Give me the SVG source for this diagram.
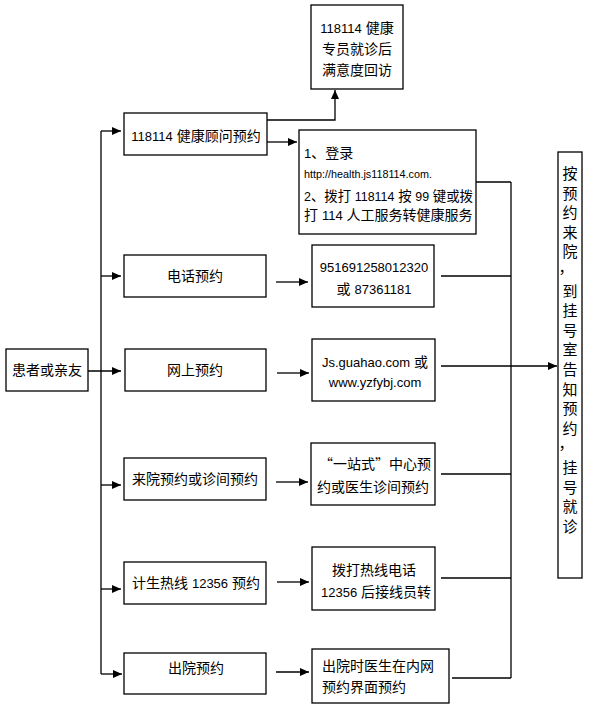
<svg xmlns="http://www.w3.org/2000/svg" width="592" height="710" viewBox="0 0 592 710">
<defs>
<marker id="ah" markerUnits="userSpaceOnUse" markerWidth="10" markerHeight="8" refX="9" refY="4" orient="auto">
<path d="M0,0 L9,4 L0,8 z" fill="#000"/>
</marker>
<style>
rect.b{fill:#fff;stroke:#000;stroke-width:1.3}
text{font-family:"Liberation Sans","Noto Sans CJK SC",sans-serif;font-size:14px;fill:#000}
.c{text-anchor:middle}
.l{font-size:13px}
.v{font-size:15px;text-anchor:middle}
.cn line,.cn polyline{stroke:#000;stroke-width:1.3;fill:none}
.ar{marker-end:url(#ah)}
</style>
</defs>
<rect width="592" height="710" fill="#fff"/>

<g id="connectors" class="cn">
<line x1="101" y1="131" x2="101" y2="674"/>
<line class="ar" x1="101" y1="131" x2="121" y2="131"/>
<line class="ar" x1="101" y1="276" x2="121" y2="276"/>
<line class="ar" x1="88" y1="371" x2="121" y2="371"/>
<line class="ar" x1="101" y1="485" x2="121" y2="485"/>
<line class="ar" x1="101" y1="589" x2="121" y2="589"/>
<line class="ar" x1="101" y1="674" x2="122" y2="674"/>
<polyline class="ar" points="267,120 335,120 335,90"/>
<line class="ar" x1="267" y1="142" x2="297" y2="142"/>
<line class="ar" x1="276" y1="282" x2="308" y2="282"/>
<line class="ar" x1="277" y1="373" x2="309" y2="373"/>
<line class="ar" x1="276" y1="482" x2="308" y2="482"/>
<line class="ar" x1="277" y1="582" x2="309" y2="582"/>
<line class="ar" x1="276" y1="672" x2="309" y2="672"/>
<line x1="476" y1="182" x2="511" y2="182"/>
<line x1="441" y1="276" x2="511" y2="276"/>
<line x1="441" y1="474" x2="511" y2="474"/>
<line x1="441" y1="578" x2="511" y2="578"/>
<line x1="452" y1="678" x2="511" y2="678"/>
<line x1="511" y1="182" x2="511" y2="678"/>
<line class="ar" x1="441" y1="366" x2="557" y2="366"/>
</g>

<g id="n-top">
<rect class="b" x="311" y="5" width="92" height="84"/>
<text class="c" x="357" y="33"><tspan class="l">118114</tspan> 健康</text>
<text class="c" x="357" y="54">专员就诊后</text>
<text class="c" x="357" y="75">满意度回访</text>
</g>

<g id="n-patient">
<rect class="b" x="6" y="349" width="82" height="42"/>
<text class="c" x="47" y="375">患者或亲友</text>
</g>

<g id="n-118114">
<rect class="b" x="124" y="113" width="143" height="42"/>
<text class="c" x="196" y="141"><tspan class="l">118114</tspan> 健康顾问预约</text>
</g>

<g id="n-login">
<rect class="b" x="299" y="130" width="177" height="104"/>
<text x="304" y="158"><tspan class="l">1</tspan>、登录</text>
<text x="304" y="178" style="font-size:11px" textLength="128" lengthAdjust="spacingAndGlyphs">http://health.js118114.com.</text>
<text x="304" y="201" textLength="169" lengthAdjust="spacingAndGlyphs"><tspan class="l">2</tspan>、拨打 <tspan class="l">118114</tspan> 按 <tspan class="l">99</tspan> 键或拨</text>
<text x="304" y="220">打 <tspan class="l">114</tspan> 人工服务转健康服务</text>
</g>

<g id="n-phone">
<rect class="b" x="124" y="255" width="142" height="42"/>
<text class="c" x="195" y="281">电话预约</text>
</g>

<g id="n-phone-num">
<rect class="b" x="312" y="245" width="122" height="62"/>
<text class="c" x="374" y="272"><tspan class="l">951691258012320</tspan></text>
<text class="c" x="374" y="294">或 <tspan class="l">87361181</tspan></text>
</g>

<g id="n-web">
<rect class="b" x="125" y="349" width="141" height="42"/>
<text class="c" x="195" y="375">网上预约</text>
</g>

<g id="n-web-url">
<rect class="b" x="312" y="339" width="123" height="62"/>
<text class="c" x="375" y="367"><tspan class="l">Js.guahao.com</tspan> 或</text>
<text class="c" x="375" y="387"><tspan class="l">www.yzfybj.com</tspan></text>
</g>

<g id="n-visit">
<rect class="b" x="124" y="458" width="142" height="42"/>
<text class="c" x="195" y="484">来院预约或诊间预约</text>
</g>

<g id="n-visit-desc">
<rect class="b" x="311" y="443" width="124" height="62"/>
<text class="c" x="375" y="469" style="font-family:'Noto Sans CJK SC',sans-serif;font-feature-settings:'fwid'">“一站式”中心预</text>
<text class="c" x="373" y="492">约或医生诊间预约</text>
</g>

<g id="n-hotline">
<rect class="b" x="124" y="562" width="142" height="42"/>
<text class="c" x="196" y="588">计生热线 <tspan class="l">12356</tspan> 预约</text>
</g>

<g id="n-hotline-desc">
<rect class="b" x="312" y="547" width="123" height="63"/>
<text class="c" x="374" y="575">拨打热线电话</text>
<text class="c" x="376" y="597"><tspan class="l">12356</tspan> 后接线员转</text>
</g>

<g id="n-discharge">
<rect class="b" x="124" y="653" width="142" height="41"/>
<text class="c" x="196" y="673">出院预约</text>
</g>

<g id="n-discharge-desc">
<rect class="b" x="312" y="649" width="137" height="54"/>
<text x="322" y="671">出院时医生在内网</text>
<text x="322" y="692">预约界面预约</text>
</g>

<g id="n-result">
<rect class="b" x="558" y="152" width="24" height="426"/>
<text class="v" x="570" y="179">按</text>
<text class="v" x="570" y="198.6">预</text>
<text class="v" x="570" y="218.2">约</text>
<text class="v" x="570" y="237.8">来</text>
<text class="v" x="570" y="257.4">院</text>
<text class="v" x="566" y="273">，</text>
<text class="v" x="570" y="296.6">到</text>
<text class="v" x="570" y="316.2">挂</text>
<text class="v" x="570" y="335.8">号</text>
<text class="v" x="570" y="355.4">室</text>
<text class="v" x="570" y="375">告</text>
<text class="v" x="570" y="394.6">知</text>
<text class="v" x="570" y="414.2">预</text>
<text class="v" x="570" y="433.8">约</text>
<text class="v" x="566" y="449.4">，</text>
<text class="v" x="570" y="473">挂</text>
<text class="v" x="570" y="492.6">号</text>
<text class="v" x="570" y="512.2">就</text>
<text class="v" x="570" y="531.8">诊</text>
</g>
</svg>
